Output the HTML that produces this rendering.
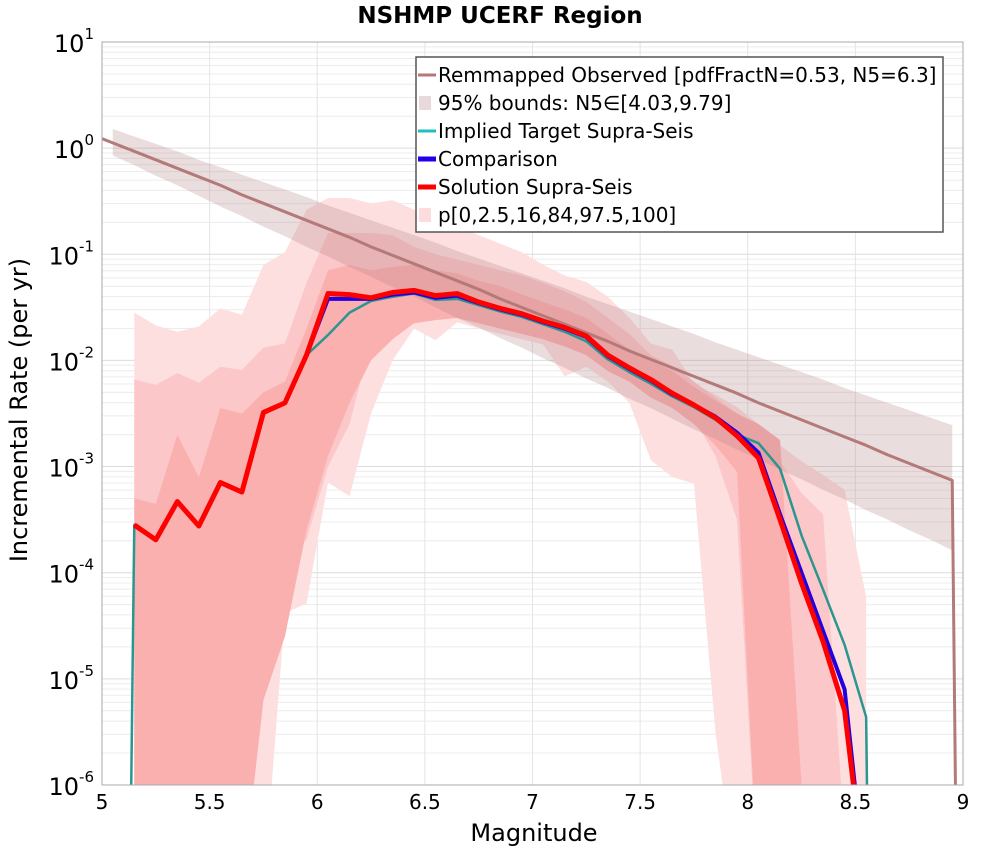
<!DOCTYPE html>
<html><head><meta charset="utf-8">
<style>
body{margin:0;background:#fff;font-family:"Liberation Sans","DejaVu Sans",sans-serif;}
svg text{font-family:"DejaVu Sans","Liberation Sans",sans-serif;}
</style></head>
<body>
<svg id="chart" width="1000" height="850" viewBox="0 0 1000 850" xmlns="http://www.w3.org/2000/svg">
<defs><clipPath id="clip"><rect x="102" y="42" width="861" height="743"/></clipPath></defs>
<text x="500" y="23" text-anchor="middle" font-size="23" font-weight="bold">NSHMP UCERF Region</text>
<g id="grid"></g>
<g id="plot" clip-path="url(#clip)"></g>
<rect x="102" y="42" width="861" height="743" fill="none" stroke="#aaa" stroke-width="1"/>
<g id="axes"></g>
<text x="534" y="841" text-anchor="middle" font-size="24">Magnitude</text>
<text transform="translate(27,410) rotate(-90)" text-anchor="middle" font-size="24">Incremental Rate (per yr)</text>
<g id="legend"></g>
</svg>
<script>
const binMags=[5.15,5.25,5.35,5.45,5.55,5.65,5.75,5.85,5.95,6.05,6.15,6.25,6.35,6.45,6.55,6.65,6.75,6.85,6.95,7.05,7.15,7.25,7.35,7.45,7.55,7.65,7.75,7.85,7.95,8.05,8.15,8.25,8.35,8.45,8.55];
const solution=[-3.55,-3.69,-3.33,-3.56,-3.15,-3.24,-2.49,-2.40,-1.95,-1.37,-1.38,-1.41,-1.36,-1.34,-1.39,-1.37,-1.45,-1.51,-1.56,-1.63,-1.69,-1.77,-1.95,-2.07,-2.18,-2.31,-2.42,-2.54,-2.71,-2.92,-3.50,-4.10,-4.65,-5.30,-7];
const comparison=[-3.55,-3.69,-3.33,-3.56,-3.15,-3.24,-2.49,-2.40,-1.95,-1.42,-1.42,-1.42,-1.38,-1.36,-1.41,-1.39,-1.46,-1.52,-1.57,-1.64,-1.70,-1.78,-1.96,-2.08,-2.19,-2.32,-2.42,-2.53,-2.68,-2.87,-3.45,-4.00,-4.55,-5.10,-7];
const target=[-3.55,-3.69,-3.33,-3.56,-3.15,-3.24,-2.49,-2.40,-1.95,-1.76,-1.55,-1.44,-1.40,-1.37,-1.43,-1.42,-1.48,-1.54,-1.59,-1.66,-1.73,-1.82,-1.99,-2.11,-2.22,-2.34,-2.44,-2.56,-2.70,-2.78,-3.02,-3.65,-4.16,-4.68,-5.36];
const p100=[-1.55,-1.67,-1.73,-1.68,-1.51,-1.57,-1.10,-0.98,-0.58,-0.47,-0.47,-0.52,-0.49,-0.58,-0.65,-0.74,-0.82,-0.90,-0.98,-1.10,-1.20,-1.26,-1.40,-1.60,-1.84,-1.90,-2.22,-2.32,-2.44,-2.60,-2.80,-2.95,-3.08,-3.22,-4.23];
const p0=[-7,-7,-7,-7,-7,-7,-7,-4.38,-4.29,-3.15,-3.28,-2.50,-2.00,-1.70,-1.81,-1.64,-1.70,-1.75,-1.80,-1.85,-2.15,-2.06,-2.20,-2.40,-2.94,-3.10,-3.16,-5.5,-7,-7,-7,-7,-7,-7,-7];
const p975=[-2.18,-2.23,-2.12,-2.21,-2.06,-2.09,-1.88,-1.84,-1.27,-0.80,-0.80,-0.80,-0.82,-0.93,-1.00,-1.05,-1.10,-1.15,-1.20,-1.27,-1.35,-1.45,-1.60,-1.75,-1.95,-2.05,-2.20,-2.35,-2.50,-2.70,-2.95,-3.25,-3.45,-6.5,-7];
const p025=[-7,-7,-7,-7,-7,-4.16,-4.0,-3.88,-3.69,-3.0,-2.60,-1.81,-1.70,-1.50,-1.55,-1.50,-1.60,-1.65,-1.70,-1.75,-1.85,-1.95,-2.10,-2.20,-2.30,-2.40,-2.55,-2.90,-3.50,-7,-7,-7,-7,-7,-7];
const p84=[-3.3,-3.35,-2.7,-3.1,-2.45,-2.5,-2.3,-2.2,-1.7,-1.15,-1.10,-1.15,-1.12,-1.10,-1.15,-1.18,-1.25,-1.30,-1.38,-1.45,-1.52,-1.60,-1.75,-1.90,-2.00,-2.10,-2.25,-2.38,-2.50,-2.60,-2.75,-6,-7,-7,-7];
const p16=[-7,-7,-7,-7,-7,-7,-5.2,-4.6,-3.6,-2.9,-2.4,-2.0,-1.8,-1.65,-1.62,-1.60,-1.65,-1.70,-1.75,-1.80,-1.87,-1.95,-2.10,-2.20,-2.35,-2.45,-2.60,-2.80,-3.05,-7,-7,-7,-7,-7,-7];
const obsMags=[5.05,5.15,5.25,5.35,5.45,5.55,5.65,5.75,5.85,5.95,6.05,6.15,6.25,6.35,6.45,6.55,6.65,6.75,6.85,6.95,7.05,7.15,7.25,7.35,7.45,7.55,7.65,7.75,7.85,7.95,8.05,8.15,8.25,8.35,8.45,8.55,8.65,8.75,8.85,8.95];
const observed=[0.05,-0.03,-0.11,-0.19,-0.27,-0.35,-0.44,-0.52,-0.60,-0.68,-0.76,-0.84,-0.93,-1.01,-1.09,-1.17,-1.25,-1.33,-1.42,-1.50,-1.58,-1.66,-1.74,-1.82,-1.91,-1.99,-2.07,-2.15,-2.23,-2.31,-2.40,-2.48,-2.56,-2.64,-2.72,-2.80,-2.89,-2.97,-3.05,-3.13];
const obsUpper=[0.18,0.11,0.04,-0.03,-0.11,-0.18,-0.25,-0.32,-0.39,-0.46,-0.54,-0.61,-0.68,-0.75,-0.82,-0.89,-0.97,-1.04,-1.11,-1.18,-1.25,-1.32,-1.40,-1.47,-1.54,-1.61,-1.68,-1.75,-1.83,-1.90,-1.97,-2.04,-2.11,-2.18,-2.26,-2.33,-2.40,-2.47,-2.54,-2.61];
const obsLower=[-0.07,-0.16,-0.26,-0.35,-0.45,-0.55,-0.64,-0.74,-0.83,-0.93,-1.02,-1.12,-1.21,-1.31,-1.40,-1.50,-1.60,-1.69,-1.79,-1.88,-1.98,-2.07,-2.17,-2.26,-2.36,-2.45,-2.55,-2.65,-2.74,-2.84,-2.93,-3.03,-3.12,-3.22,-3.31,-3.41,-3.50,-3.60,-3.69,-3.79];
const xTicks=[5,5.5,6,6.5,7,7.5,8,8.5,9];
const xTickLabels=["5","5.5","6","6.5","7","7.5","8","8.5","9"];
const yExps=[1,0,-1,-2,-3,-4,-5,-6];

const NS="http://www.w3.org/2000/svg";
const X=m=>102+(m-5)*215.25;
const Y=l=>42+(1-l)*106.14;
function mk(tag,attrs,parent){const e=document.createElementNS(NS,tag);for(const k in attrs)e.setAttribute(k,attrs[k]);parent.appendChild(e);return e;}
const grid=document.getElementById('grid'),plot=document.getElementById('plot'),axes=document.getElementById('axes'),leg=document.getElementById('legend');

for(let d=-6;d<1;d++){for(let k=2;k<10;k++){const y=Y(d+Math.log10(k));
 const g=mk('line',{x1:102,x2:963,y1:y,y2:y,stroke:'#ececec','stroke-width':1},grid);
 }}
yExps.forEach(e=>{const y=Y(e);const g=mk('line',{x1:102,x2:963,y1:y,y2:y,stroke:'#dcdcdc','stroke-width':1},grid);
 
 const t=mk('text',{x:94,y:y+10,'text-anchor':'end','font-size':24},axes);
 
 t.innerHTML='10<tspan dy="-13" font-size="15">'+e+'</tspan>';});
xTicks.forEach((m,i)=>{const x=X(m);const g=mk('line',{x1:x,x2:x,y1:42,y2:785,stroke:'#e4e4e4','stroke-width':1},grid);
 
 const t=mk('text',{x:x,y:809,'text-anchor':'middle','font-size':20},axes);t.textContent=xTickLabels[i];
 });

function band(mags,up,lo,fill,name){let pts=mags.map((m,i)=>X(m)+','+Y(up[i]));
 for(let i=mags.length-1;i>=0;i--)pts.push(X(mags[i])+','+Y(lo[i]));
 const p=mk('polygon',{points:pts.join(' '),fill:fill,stroke:'none'},plot);
 }
function line(mags,vals,color,w,name,pre,post){let pts=mags.map((m,i)=>[X(m),Y(vals[i])]);
 if(pre)pts.unshift(pre);if(post)pts.push(post);
 const p=mk('polyline',{points:pts.map(q=>q.join(',')).join(' '),fill:'none',stroke:color,'stroke-width':w,'stroke-linejoin':'round'},plot);
 }

band(binMags,p100,p0,'#fddfe0','band-p0-p100');
band(binMags,p975,p025,'#fcc7c8','band-p2.5-p97.5');
band(binMags,p84,p16,'#fbb0b0','band-p16-p84');
const slope=(observed[1]-observed[0])/0.1;
band(obsMags,obsUpper,obsLower,'rgba(170,120,125,0.25)','observed-95-bounds');
line(obsMags,observed,'#b47a7a',3,'remapped-observed-line',[X(5),Y(observed[0]-slope*0.05)],[X(8.97),Y(-7)]);
line(binMags,target,'#2b9590',2.5,'implied-target-line',[X(5.13),Y(-7)],[X(8.56),Y(-7)]);
line(binMags,comparison,'#2200dd',4,'comparison-line');
line(binMags,solution,'#ff0000',5,'solution-line');

const lr=mk('rect',{x:416,y:57,width:527,height:175,fill:'#fff',stroke:'#555','stroke-width':1.5},leg);

const entries=[["Remmapped Observed [pdfFractN=0.53, N5=6.3]",'#b47a7a','line',3],["95% bounds: N5\u2208[4.03,9.79]",'#ead9db','box',0],["Implied Target Supra-Seis",'#20c0c0','line',3],["Comparison",'#2200ee','line',5],["Solution Supra-Seis",'#ff0000','line',5],["p[0,2.5,16,84,97.5,100]",'#fddcdd','box',0]];
entries.forEach((e,i)=>{const y=75+i*28;
 if(e[2]==='line'){const l=mk('line',{x1:418,x2:436,y1:y,y2:y,stroke:e[1],'stroke-width':e[3]},leg);}
 else{const r=mk('rect',{x:419,y:y-7,width:12,height:14,fill:e[1]},leg);}
 const t=mk('text',{x:438,y:y+7,'font-size':20},leg);t.textContent=e[0];
 });
</script>
</body></html>
